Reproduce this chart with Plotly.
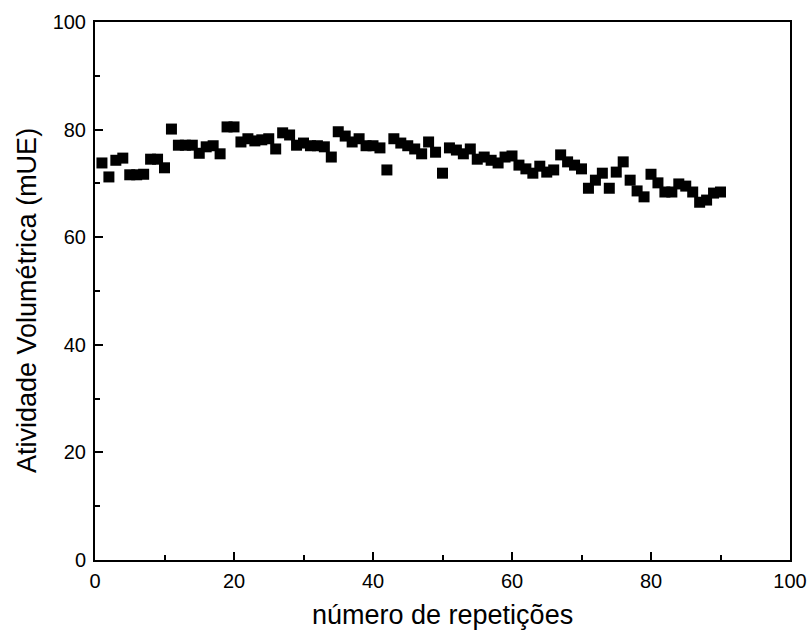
import plotly.graph_objects as go

repeticoes = list(range(1, 91))
atividade = [
    73.8, 71.2, 74.3, 74.7, 71.6, 71.6, 71.7, 74.5, 74.5, 72.9,
    80.1, 77.1, 77.1, 77.1, 75.6, 76.8, 77.0, 75.5, 80.5, 80.5,
    77.7, 78.3, 77.9, 78.1, 78.3, 76.4, 79.4, 79.0, 77.1, 77.5,
    77.0, 77.0, 76.8, 74.9, 79.6, 78.8, 77.7, 78.3, 77.0, 77.0,
    76.6, 72.5, 78.3, 77.5, 77.0, 76.4, 75.5, 77.7, 75.8, 71.9,
    76.6, 76.2, 75.5, 76.4, 74.5, 74.9, 74.3, 73.8, 74.9, 75.1,
    73.4, 72.7, 71.9, 73.2, 72.1, 72.5, 75.3, 74.0, 73.4, 72.7,
    69.1, 70.6, 71.9, 69.1, 72.1, 74.0, 70.6, 68.6, 67.5, 71.7,
    70.1, 68.4, 68.4, 69.9, 69.5, 68.4, 66.5, 66.9, 68.2, 68.4,
]

x_ticks = [0, 20, 40, 60, 80, 100]
y_ticks = [0, 20, 40, 60, 80, 100]
x_title = "número de repetições"
y_title = "Atividade Volumétrica (mUE)"

fig = go.Figure()
fig.add_trace(go.Scatter(
    x=repeticoes, y=atividade, mode="markers",
    marker=dict(symbol="square", size=11, color="black", line=dict(width=0)),
    showlegend=False,
))

font_family = "Liberation Sans, Arial, sans-serif"
axis_common = dict(
    showgrid=False, zeroline=False, showline=True, linecolor="black", linewidth=2,
    mirror=True, ticks="inside", ticklen=8, tickwidth=2, tickcolor="black",
    tickfont=dict(family=font_family, size=20, color="black"),
    minor=dict(ticks="inside", ticklen=5, tickwidth=2, tickcolor="black", dtick=10),
    automargin=False,
)

fig.update_layout(
    width=810, height=632,
    margin=dict(l=95, r=20, t=22, b=72),
    plot_bgcolor="white", paper_bgcolor="white",
    font=dict(family=font_family, color="black"),
    xaxis=dict(range=[0, 100], tickvals=x_ticks, ticklabelstandoff=2, **axis_common),
    yaxis=dict(range=[0, 100], tickvals=y_ticks, ticklabelstandoff=3, **axis_common),
    annotations=[
        dict(text=x_title, xref="paper", yref="paper", x=0.5, y=-0.1, yshift=-1,
             xanchor="center", yanchor="middle", showarrow=False,
             font=dict(family=font_family, size=27, color="black")),
        dict(text=y_title, xref="paper", yref="paper", x=0, xshift=-68, y=0.5, yshift=-10,
             xanchor="center", yanchor="middle", textangle=-90, showarrow=False,
             font=dict(family=font_family, size=27, color="black")),
    ],
)

fig.write_html("out.html")
